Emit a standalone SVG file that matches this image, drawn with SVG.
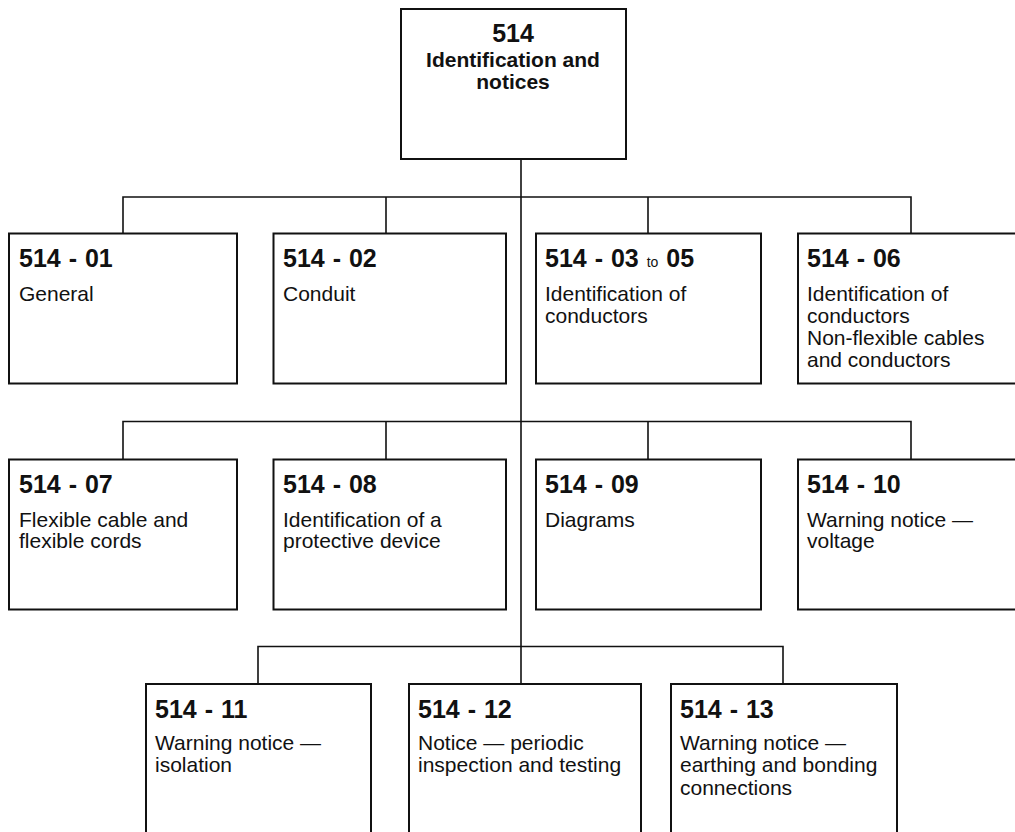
<svg xmlns="http://www.w3.org/2000/svg" width="1015" height="832" viewBox="0 0 1015 832">
  <style>
    .box { fill: #ffffff; stroke: #111111; stroke-width: 2; }
    .wire { fill: none; stroke: #111111; stroke-width: 1.6; }
    .num { font-family: "Liberation Sans", Arial, sans-serif; font-weight: bold; font-size: 25px; word-spacing: 1px; fill: #111111; }
    .small { font-weight: normal; font-size: 14px; }
    .body { font-family: "Liberation Sans", Arial, sans-serif; font-size: 21px; fill: #111111; }
    .title { font-family: "Liberation Sans", Arial, sans-serif; font-weight: bold; fill: #111111; text-anchor: middle; }
  </style>
  <rect width="1015" height="832" fill="#ffffff"/>

  <!-- connectors -->
  <g id="connectors">
    <path class="wire" d="M521,159 V684"/>
    <path class="wire" d="M123,233.5 V197 H911 V233.5 M386,197 V233.5 M648,197 V233.5"/>
    <path class="wire" d="M123,459.5 V421.5 H911 V459.5 M386,421.5 V459.5 M648,421.5 V459.5"/>
    <path class="wire" d="M258,684 V646.5 H783 V684"/>
  </g>

  <!-- root -->
  <g id="n514">
    <rect class="box" x="401" y="9" width="225" height="150"/>
    <text class="title" x="513" y="42" font-size="25">514</text>
    <text class="title" x="513" y="67" font-size="21">Identification and</text>
    <text class="title" x="513" y="89" font-size="21">notices</text>
  </g>

  <!-- first row -->
  <g id="n514-01">
    <rect class="box" x="9" y="233.5" width="228" height="150"/>
    <text class="num" x="19" y="267">514 - 01</text>
    <text class="body" x="19" y="301">General</text>
  </g>
  <g id="n514-02">
    <rect class="box" x="273.5" y="233.5" width="232.5" height="150"/>
    <text class="num" x="283" y="267">514 - 02</text>
    <text class="body" x="283" y="301">Conduit</text>
  </g>
  <g id="n514-03-05">
    <rect class="box" x="536" y="233.5" width="225" height="150"/>
    <text class="num" x="545" y="267">514 - 03 <tspan class="small">to</tspan> 05</text>
    <text class="body" x="545" y="301">Identification of</text>
    <text class="body" x="545" y="323">conductors</text>
  </g>
  <g id="n514-06">
    <rect class="box" x="798" y="233.5" width="230" height="150"/>
    <text class="num" x="807" y="267">514 - 06</text>
    <text class="body" x="807" y="301">Identification of</text>
    <text class="body" x="807" y="323">conductors</text>
    <text class="body" x="807" y="345">Non-flexible cables</text>
    <text class="body" x="807" y="367">and conductors</text>
  </g>

  <!-- second row -->
  <g id="n514-07">
    <rect class="box" x="9" y="459.5" width="228" height="150"/>
    <text class="num" x="19" y="493">514 - 07</text>
    <text class="body" x="19" y="527">Flexible cable and</text>
    <text class="body" x="19" y="548">flexible cords</text>
  </g>
  <g id="n514-08">
    <rect class="box" x="273.5" y="459.5" width="232.5" height="150"/>
    <text class="num" x="283" y="493">514 - 08</text>
    <text class="body" x="283" y="527">Identification of a</text>
    <text class="body" x="283" y="548">protective device</text>
  </g>
  <g id="n514-09">
    <rect class="box" x="536" y="459.5" width="225" height="150"/>
    <text class="num" x="545" y="493">514 - 09</text>
    <text class="body" x="545" y="527">Diagrams</text>
  </g>
  <g id="n514-10">
    <rect class="box" x="798" y="459.5" width="230" height="150"/>
    <text class="num" x="807" y="493">514 - 10</text>
    <text class="body" x="807" y="527">Warning notice —</text>
    <text class="body" x="807" y="548">voltage</text>
  </g>

  <!-- third row -->
  <g id="n514-11">
    <rect class="box" x="146" y="684" width="225" height="170"/>
    <text class="num" x="155" y="718">514 - 11</text>
    <text class="body" x="155" y="750">Warning notice —</text>
    <text class="body" x="155" y="772">isolation</text>
  </g>
  <g id="n514-12">
    <rect class="box" x="409" y="684" width="232" height="170"/>
    <text class="num" x="418" y="718">514 - 12</text>
    <text class="body" x="418" y="750">Notice — periodic</text>
    <text class="body" x="418" y="772">inspection and testing</text>
  </g>
  <g id="n514-13">
    <rect class="box" x="671" y="684" width="226" height="170"/>
    <text class="num" x="680" y="718">514 - 13</text>
    <text class="body" x="680" y="750">Warning notice —</text>
    <text class="body" x="680" y="772">earthing and bonding</text>
    <text class="body" x="680" y="795">connections</text>
  </g>
</svg>
